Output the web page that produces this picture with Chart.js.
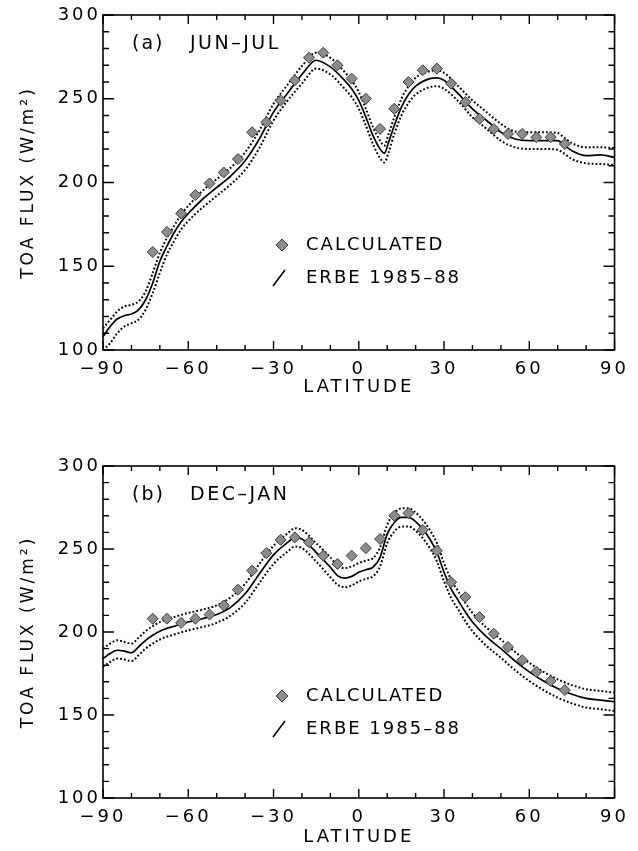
<!DOCTYPE html>
<html><head><meta charset="utf-8">
<script src="https://cdn.jsdelivr.net/npm/chart.js@4.4.1/dist/chart.umd.min.js"></script>
<style>
html,body{margin:0;padding:0;background:#fff;width:638px;height:851px;overflow:hidden}
canvas{position:absolute;left:0}
#ca{top:0}
#cb{top:425px}
</style></head><body>
<canvas id="ca" width="638" height="420"></canvas>
<canvas id="cb" width="638" height="426"></canvas>
<script>
// ---- tick labels ----
const latTicks = [-90, -60, -30, 0, 30, 60, 90];
const fluxTicks = [100, 150, 200, 250, 300];

// ---- CALCULATED (diamonds) ----
const latCalc = [-72.5,-67.5,-62.5,-57.5,-52.5,-47.5,-42.5,-37.5,-32.5,-27.5,-22.5,-17.5,-12.5,-7.5,-2.5,
                 2.5,7.5,12.5,17.5,22.5,27.5,32.5,37.5,42.5,47.5,52.5,57.5,62.5,67.5,72.5];
const calcJJ = [158.5,170.5,181.5,192.5,199.5,206,214,230,236,249,261,274.5,277.5,270,262,
                250,232,244,260,267,268,259,248,238,232,229,229,227,227,223];
const calcDJ = [208,208,205.5,208,210.5,216,225.5,237,247.5,255.5,257,254,246,241,246,
                250.5,256,270,271.5,261.5,249,230,221,209,199,191,183,176,170.5,165];

// ---- ERBE 1985-88, JUN-JUL ----
const latErbeJJ = [-90,-87.5,-85,-82.5,-80,-77.5,-75,-72.5,-70,-67.5,-65,-62.5,-60,-55,-50,-45,-40,-35,-30,-25,
                   -20,-15,-10,-5,-2.5,0,2.5,5,7.5,9,10.5,12.5,15,17.5,20,25,27.5,30,35,40,45,50,55,60,65,70,72.5,75,80,85,90];
const erbeJJ = [108,114,118.5,120.5,121.5,124,130,140,153,162,170,176.5,181.5,190,197,204,213,226,242,253.5,
                264.5,273,269,261,256,249,239,228,220,217.5,224,234,245,252.5,257.5,262,262.5,261,253,244,237,230,226,225,225,225,222,219,216,216.5,215];
const erbeJJHigh = [113,118,123,126,127,129,135,146,158,167,174,181,186,195,202,209,218,231,247,258.5,
                    269.5,277.5,274.5,266,261,254,244,233,225,222,229,239,250,257.5,262.5,266.5,267,265.5,257.5,249,242,235,230.5,230,230,229.5,226.5,223.5,221,221,220.5];
const erbeJJLow = [100,104,110,114,116,118,124,134,146,157,165,172,177,185,192,199,207.5,220.5,237,249,
                   259,268,264.5,256,251,244,234,223,214.5,212,218,229,240,247.5,252.5,257,257.5,256,248.5,239,232,225,221,220,220,219.5,217,214,211.5,211,210.5];

// ---- ERBE 1985-88, DEC-JAN ----
const latErbeDJ = [-90,-87.5,-85,-82.5,-80,-77.5,-75,-72.5,-70,-65,-60,-55,-50,-45,-40,-35,-30,-25,-22.5,-20,
                   -15,-10,-7.5,-5,-2.5,0,2.5,5,7.5,10,12.5,15,17.5,20,22.5,25,27.5,30,32.5,35,37.5,40,45,50,55,60,65,70,75,80,85,90];
const erbeDJ = [184,187,189,188.5,187.5,191,195,198,200.5,203.5,206,208,210.5,215,223,235,246.5,254,257,256,
                248,239,234,232.5,233.5,236,237.5,239,245,259,266,269,269,266.5,262,256,248,236,226,219,212,206,197,190,182.5,176,170.5,166,162.5,160,159,158];
const erbeDJHigh = [190,193,195,194,193,196.5,200.5,203.5,206,209,211.5,213.5,216,221,229,241,252,259.5,262.5,261.5,
                    253.5,245,240,238.5,239.5,241.5,243,244.5,251,264.5,271.5,274.5,274.5,272,267.5,261.5,253.5,241.5,231.5,224.5,217.5,211.5,202.5,195.5,188,181.5,176,171.5,168,165.5,164.5,163.5];
const erbeDJLow = [179,182,184,183.5,182.5,186,190,193,195.5,198.5,201,203,205.5,210,217.5,229.5,241,248.5,251.5,250.5,
                   242.5,233,228.5,227,228,230.5,232,233.5,239.5,253.5,260.5,263.5,263.5,261,256.5,250.5,242.5,230.5,220.5,213.5,206.5,200.5,191.5,184.5,177,170.5,165,160.5,157,154.5,153.5,152.5];

const FAM = '"DejaVu Sans", "Liberation Sans", sans-serif';
const INK = '#000';
const SPACING = '3px';
const LEG_SPACING = '2px';

const frameTicks = {
  id: 'frameTicks',
  beforeLayout(chart) { chart.ctx.letterSpacing = SPACING; },
  beforeDraw(chart) { chart.ctx.letterSpacing = SPACING; },
  afterDraw(chart, args, opts) {
    const ctx = chart.ctx, a = chart.chartArea, x = chart.scales.x, y = chart.scales.y;
    ctx.save();
    ctx.strokeStyle = INK;
    ctx.lineWidth = 1.6;
    ctx.strokeRect(a.left, a.top, a.right - a.left, a.bottom - a.top);
    ctx.lineWidth = 1.4;
    ctx.beginPath();
    for (let v = -90; v <= 90; v += 10) {
      const px = x.getPixelForValue(v);
      const L = (v % 30 === 0) ? 9 : 5;
      ctx.moveTo(px, a.bottom); ctx.lineTo(px, a.bottom - L);
      ctx.moveTo(px, a.top); ctx.lineTo(px, a.top + L);
    }
    for (let v = 100; v <= 300; v += 10) {
      const py = y.getPixelForValue(v);
      const L = (v % 50 === 0) ? 11 : 6;
      ctx.moveTo(a.left, py); ctx.lineTo(a.left + L, py);
      ctx.moveTo(a.right, py); ctx.lineTo(a.right - L, py);
    }
    ctx.stroke();

    ctx.letterSpacing = LEG_SPACING;
    ctx.fillStyle = INK;
    ctx.font = '19px ' + FAM;
    ctx.textBaseline = 'middle';
    ctx.textAlign = 'left';
    ctx.fillText(opts.tag, a.left + 29, a.top + 29);
    ctx.letterSpacing = '2.5px';
    ctx.fillText(opts.season, a.left + 87, a.top + 29);

    // legend
    ctx.letterSpacing = LEG_SPACING;
    ctx.font = '18px ' + FAM;
    const ly1 = a.top + 230, ly2 = a.top + 263, lx = 282;
    ctx.beginPath();
    ctx.moveTo(lx - 6, ly1); ctx.lineTo(lx, ly1 - 6); ctx.lineTo(lx + 6, ly1); ctx.lineTo(lx, ly1 + 6); ctx.closePath();
    ctx.fillStyle = '#8c8c8c'; ctx.fill();
    ctx.lineWidth = 1; ctx.strokeStyle = '#3c3c3c'; ctx.stroke();
    ctx.fillStyle = INK;
    ctx.fillText('CALCULATED', 306, ly1);
    ctx.beginPath();
    ctx.lineWidth = 1.6; ctx.strokeStyle = INK;
    ctx.moveTo(273, ly2 + 8); ctx.lineTo(285, ly2 - 8);
    ctx.stroke();
    ctx.fillText('ERBE 1985–88', 306, ly2);
    ctx.restore();
  }
};

function pts(xs, ys) { return xs.map((v, i) => ({ x: v, y: ys[i] })); }
const fmtLat = v => (v < 0 ? '\u2212' + Math.abs(v) : String(v));

function makeChart(id, o) {
  const lineBase = { pointRadius: 0, borderColor: INK, tension: 0.4, cubicInterpolationMode: 'monotone', fill: false };
  return new Chart(document.getElementById(id), {
    type: 'line',
    data: {
      datasets: [
        { label: 'CALCULATED', data: pts(latCalc, o.calc), showLine: false, pointStyle: 'rectRot',
          pointRadius: 5.5, backgroundColor: '#8c8c8c', borderColor: '#3c3c3c', borderWidth: 1, order: 0 },
        Object.assign({ label: 'ERBE 1985–88', data: pts(o.lat, o.erbe), borderWidth: 1.7, order: 1 }, lineBase),
        Object.assign({ label: 'ERBE high', data: pts(o.lat, o.high), borderWidth: 2, borderDash: [1.8, 2.1], order: 2 }, lineBase),
        Object.assign({ label: 'ERBE low', data: pts(o.lat, o.low), borderWidth: 2, borderDash: [1.8, 2.1], order: 3 }, lineBase)
      ]
    },
    options: {
      responsive: false, animation: false, devicePixelRatio: 1,
      layout: { padding: { top: o.padTop, right: 14, left: 0, bottom: 0 } },
      plugins: { legend: { display: false }, tooltip: { enabled: false }, frameTicks: { tag: o.tag, season: o.season } },
      scales: {
        x: {
          type: 'linear', min: -90, max: 90,
          afterBuildTicks: s => { s.ticks = latTicks.map(v => ({ value: v })); },
          afterFit: s => { s.height = o.xH; },
          ticks: { autoSkip: false, maxRotation: 0, padding: 9, color: INK, font: { family: FAM, size: 18 }, callback: fmtLat },
          grid: { display: false, drawTicks: false }, border: { display: false },
          title: { display: true, text: 'LATITUDE', color: INK, font: { family: FAM, size: 18 }, padding: { top: 0, bottom: o.xTitlePad } }
        },
        y: {
          type: 'linear', min: 100, max: 300,
          afterBuildTicks: s => { s.ticks = fluxTicks.map(v => ({ value: v })); },
          afterFit: s => { s.width = 103; },
          ticks: { autoSkip: false, padding: 2, color: INK, font: { family: FAM, size: 18 } },
          grid: { display: false, drawTicks: false }, border: { display: false },
          title: { display: true, text: 'TOA FLUX (W/m²)', color: INK, font: { family: FAM, size: 17 }, padding: { top: 18, bottom: 0 } }
        }
      }
    },
    plugins: [frameTicks]
  });
}

makeChart('ca', { calc: calcJJ, lat: latErbeJJ, erbe: erbeJJ, high: erbeJJHigh, low: erbeJJLow,
                  tag: '(a)', season: 'JUN–JUL', padTop: 15, xH: 70, xTitlePad: 22 });
makeChart('cb', { calc: calcDJ, lat: latErbeDJ, erbe: erbeDJ, high: erbeDJHigh, low: erbeDJLow,
                  tag: '(b)', season: 'DEC–JAN', padTop: 41, xH: 53, xTitlePad: 3 });
</script>
</body></html>
